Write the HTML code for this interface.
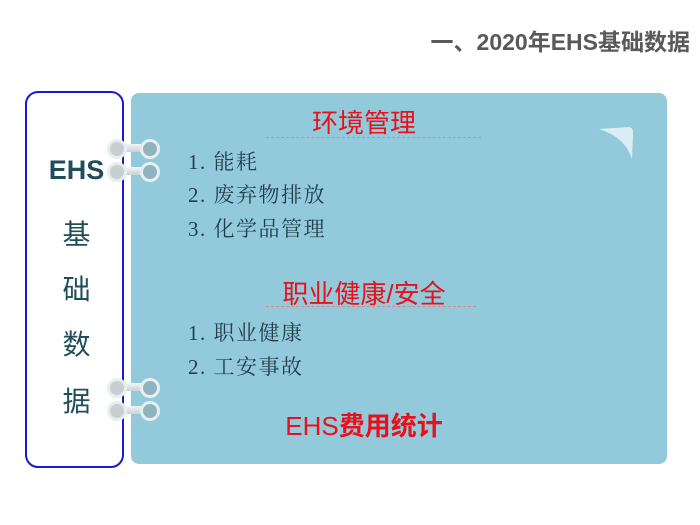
<!DOCTYPE html>
<html><head><meta charset="utf-8"><style>
body{margin:0;width:700px;height:525px;background:#fff;position:relative;overflow:hidden;font-family:"Liberation Sans","Noto Sans CJK SC",sans-serif}
.a{position:absolute}
.title{right:10px;top:23px;font-size:23px;font-weight:bold;color:#595959}
.left{left:25px;top:91px;width:95px;height:373px;border:2px solid #1a1ad0;border-radius:13px;box-sizing:content-box}
.lt{position:absolute;left:0;width:99px;text-align:center;color:#1f4e5a;font-size:28px}
.panel{left:131px;top:93px;width:536px;height:371px;background:#93cadb;border-radius:8px}
.h{position:absolute;left:0;width:466px;text-align:center;color:#e8101a;font-size:26px}
.it{position:absolute;left:57px;color:#1f3f4a;font-size:21px;letter-spacing:1.5px;font-family:"Liberation Serif","Noto Serif CJK SC",serif}
.dash{position:absolute;border-top:1px dashed #d88;}
.ring{position:absolute;width:14px;height:14px;border-radius:50%;background:#8fb4c0;border:3px solid #e6eef0}
.bar{position:absolute;height:8px;background:linear-gradient(#f4f6f7,#c9d2d6);border-radius:4px}
</style></head><body>
<div class="a title">一、2020年EHS基础数据</div>
<div class="a panel">
 <div class="h" style="top:10px">环境管理</div>
 <div class="dash" style="left:135px;width:215px;top:44px"></div>
 <div class="it" style="top:53px">1. 能耗</div>
 <div class="it" style="top:86px">2. 废弃物排放</div>
 <div class="it" style="top:120px">3. 化学品管理</div>
 <div class="h" style="top:181px">职业健康/安全</div>
 <div class="dash" style="left:135px;width:210px;top:213px"></div>
 <div class="it" style="top:224px">1. 职业健康</div>
 <div class="it" style="top:258px">2. 工安事故</div>
 <div class="h" style="top:313px">EHS<b>费用统计</b></div>
 <svg style="position:absolute;left:468px;top:30px" width="40" height="40"><path d="M0 6 L30 4 Q35 5 34 12 L33 36 Q26 14 0 6Z" fill="#e8f3f6" opacity=".85"/></svg>
</div>
<div class="a left">
 <div class="lt" style="top:62px;font-weight:bold;font-size:27px">EHS</div>
 <div class="lt" style="top:120px">基</div>
 <div class="lt" style="top:175px">础</div>
 <div class="lt" style="top:230px">数</div>
 <div class="lt" style="top:287px">据</div>
</div>
<div class="bar" style="left:114px;top:144px;width:36px"></div>
<div class="bar" style="left:114px;top:167px;width:36px"></div>
<div class="ring" style="left:107px;top:139px;background:#c8cfd2"></div>
<div class="ring" style="left:140px;top:139px"></div>
<div class="ring" style="left:107px;top:162px;background:#c8cfd2"></div>
<div class="ring" style="left:140px;top:162px"></div>
<div class="bar" style="left:114px;top:383px;width:36px"></div>
<div class="bar" style="left:114px;top:406px;width:36px"></div>
<div class="ring" style="left:107px;top:378px;background:#c8cfd2"></div>
<div class="ring" style="left:140px;top:378px"></div>
<div class="ring" style="left:107px;top:401px;background:#c8cfd2"></div>
<div class="ring" style="left:140px;top:401px"></div>
</body></html>
